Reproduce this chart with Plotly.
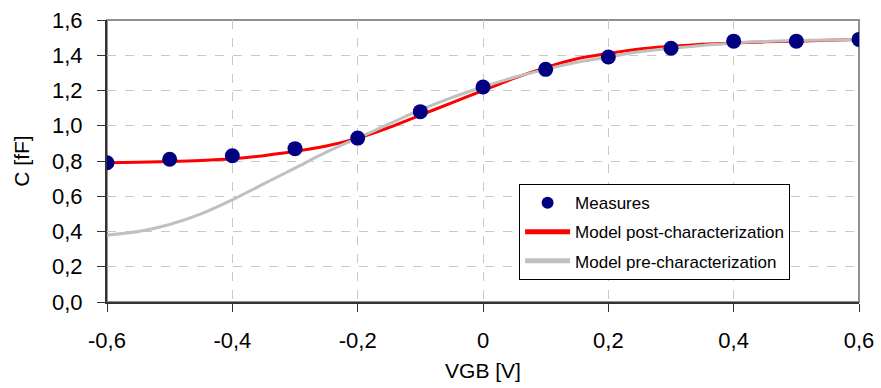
import plotly.graph_objects as go

# Measured capacitance vs gate-bulk voltage
vgb_meas = [-0.6, -0.5, -0.4, -0.3, -0.2, -0.1, 0.0, 0.1, 0.2, 0.3, 0.4, 0.5, 0.6]
c_meas = [0.79, 0.81, 0.83, 0.87, 0.93, 1.08, 1.22, 1.32, 1.39, 1.44, 1.48, 1.48, 1.49]

# Model curves sampled every 0.05 V
vgb_model = [-0.6, -0.55, -0.5, -0.45, -0.4, -0.35, -0.3, -0.25, -0.2, -0.15, -0.1, -0.05,
             0.0, 0.05, 0.1, 0.15, 0.2, 0.25, 0.3, 0.35, 0.4, 0.45, 0.5, 0.55, 0.6]
c_post = [0.79, 0.793, 0.797, 0.803, 0.813, 0.83, 0.855, 0.885, 0.93, 0.99, 1.06, 1.13,
          1.2, 1.27, 1.33, 1.38, 1.41, 1.435, 1.45, 1.462, 1.47, 1.476, 1.48, 1.485, 1.49]
c_pre = [0.38, 0.40, 0.44, 0.50, 0.58, 0.67, 0.76, 0.85, 0.93, 1.01, 1.09, 1.16,
         1.22, 1.275, 1.32, 1.36, 1.39, 1.42, 1.44, 1.455, 1.47, 1.478, 1.483, 1.487, 1.49]

x_ticks = [-0.6, -0.4, -0.2, 0.0, 0.2, 0.4, 0.6]
x_tick_labels = ["-0,6", "-0,4", "-0,2", "0", "0,2", "0,4", "0,6"]
y_ticks = [0.0, 0.2, 0.4, 0.6, 0.8, 1.0, 1.2, 1.4, 1.6]
y_tick_labels = ["0,0", "0,2", "0,4", "0,6", "0,8", "1,0", "1,2", "1,4", "1,6"]

fig = go.Figure()
fig.add_trace(go.Scatter(
    x=vgb_model, y=c_post, mode="lines", name="Model post-characterization",
    line=dict(color="#ff0000", width=3, shape="spline"),
    legendrank=2, legendgroup="b"))
fig.add_trace(go.Scatter(
    x=vgb_model, y=c_pre, mode="lines", name="Model pre-characterization",
    line=dict(color="#c0c0c0", width=3, shape="spline"),
    legendrank=3, legendgroup="c"))
fig.add_trace(go.Scatter(
    x=vgb_meas, y=c_meas, mode="markers", name="Measures",
    marker=dict(color="#000080", size=15),
    legendrank=1, legendgroup="a"))

font_family = "Liberation Sans, Arial, sans-serif"

fig.update_layout(
    width=881, height=388,
    margin=dict(l=107, r=22, t=20, b=86),
    paper_bgcolor="white", plot_bgcolor="white",
    font=dict(family=font_family, color="black"),
    showlegend=True,
    legend=dict(
        x=0.548, y=0.418, xanchor="left", yanchor="top",
        bordercolor="black", borderwidth=1, bgcolor="white",
        font=dict(size=17, family=font_family),
        tracegroupgap=4, itemwidth=45, itemsizing="constant",
    ),
    xaxis=dict(
        range=[-0.6, 0.6], tickvals=x_ticks, ticktext=x_tick_labels,
        showline=True, linecolor="#333333", linewidth=2,
        ticks="outside", ticklen=8, tickcolor="#333333", tickwidth=1,
        showgrid=True, gridcolor="#c8c8c8", griddash="dash", gridwidth=1,
        zeroline=False, tickfont=dict(size=22), ticklabelstandoff=10,
        title=dict(text="VGB [V]", font=dict(size=21), standoff=11),
        automargin=False,
    ),
    yaxis=dict(
        range=[0, 1.6], tickvals=y_ticks, ticktext=y_tick_labels,
        showline=True, linecolor="#333333", linewidth=2,
        ticks="outside", ticklen=8, tickcolor="#333333", tickwidth=1,
        showgrid=True, gridcolor="#c8c8c8", griddash="dash", gridwidth=1,
        zeroline=False, tickfont=dict(size=22), ticklabelstandoff=10,
        title=dict(text="C [fF]", font=dict(size=21), standoff=17),
        automargin=False,
    ),
    shapes=[dict(type="rect", xref="paper", yref="paper", x0=0, y0=0, x1=1, y1=1,
                 line=dict(color="#909090", width=2), layer="below")],
)

fig.write_html("out.html")
